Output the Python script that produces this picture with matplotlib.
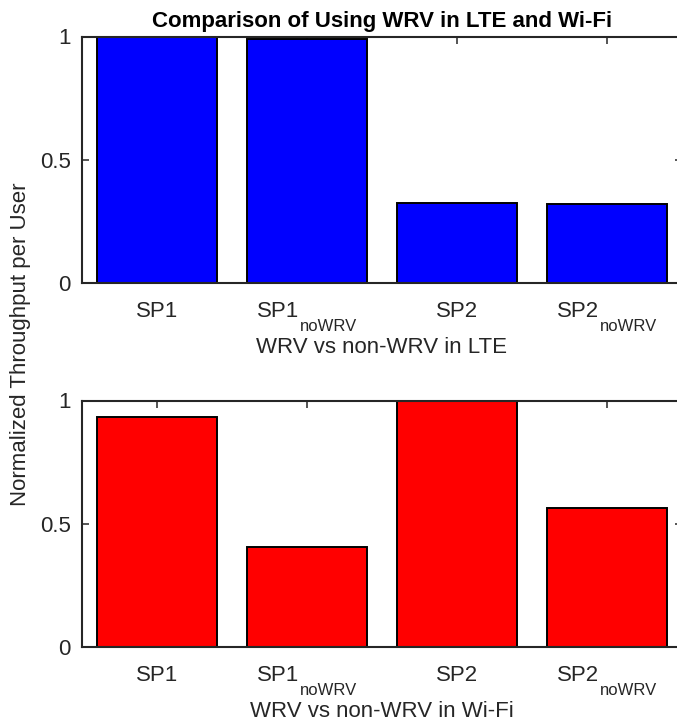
import matplotlib
matplotlib.use("Agg")
import matplotlib.pyplot as plt

plt.rcParams['font.family'] = ['Liberation Sans', 'DejaVu Sans']

categories = ["SP1", "SP1_noWRV", "SP2", "SP2_noWRV"]
lte_values = [1.0, 0.99, 0.325, 0.32]
wifi_values = [0.935, 0.405, 1.0, 0.562]
yticks = [0, 0.5, 1]
ytick_labels = ["0", "0.5", "1"]

title = "Comparison of Using WRV in LTE and Wi-Fi"
ylabel = "Normalized Throughput per User"
xlabels = ["WRV vs non-WRV in LTE", "WRV vs non-WRV in Wi-Fi"]

W, H = 677, 723
fig = plt.figure(figsize=(W / 100, H / 100), dpi=100)
txt = "#262626"
FS = 16
SUB_FS = 12


def make_axes(top, bottom, values, color, xlabel):
    ax = fig.add_axes([82 / W, 1 - bottom / H, 600 / W, (bottom - top) / H])
    x = list(range(1, len(values) + 1))
    ax.bar(x, values, width=0.8, color=color, edgecolor="black", linewidth=1.4, zorder=2)
    ax.set_xlim(0.5, 4.5)
    ax.set_ylim(0, 1)
    ax.set_xticks(x)
    ax.set_xticklabels([])
    ax.set_yticks(yticks)
    ax.set_yticklabels(ytick_labels, fontsize=FS, color=txt)
    ax.tick_params(direction="in", top=True, right=True, length=5, width=1.1,
                   color=txt, pad=8)
    for s in ax.spines.values():
        s.set_color(txt)
        s.set_linewidth(1.5)
        s.set_zorder(3)

    # category labels with a dropped subscript part, centred on each tick
    trans = ax.get_xaxis_transform()
    renderer = fig.canvas.get_renderer()
    for xi, cat in zip(x, categories):
        main, _, sub = cat.partition("_")
        t1 = ax.annotate(main, xy=(xi, 0), xycoords=trans, xytext=(0, -34),
                         textcoords="offset pixels", ha="left", va="baseline",
                         fontsize=FS, color=txt, annotation_clip=False)
        w1 = t1.get_window_extent(renderer).width
        w2 = 0
        t2 = None
        if sub:
            t2 = ax.annotate(sub, xy=(xi, 0), xycoords=trans, xytext=(0, -48),
                             textcoords="offset pixels", ha="left", va="baseline",
                             fontsize=SUB_FS, color=txt, annotation_clip=False)
            w2 = t2.get_window_extent(renderer).width
        x0 = -(w1 + w2) / 2
        t1.set_position((x0, -34))
        if t2 is not None:
            t2.set_position((x0 + w1, -48))

    ax.set_xlabel(xlabel, fontsize=FS, color=txt)
    ax.xaxis.set_label_coords(0.5, -70 / (bottom - top))
    ax.xaxis.label.set_va("baseline")
    return ax


ax1 = make_axes(36.5, 283, lte_values, "#0000ff", xlabels[0])
ax2 = make_axes(400.5, 647, wifi_values, "#ff0000", xlabels[1])

ax1.set_title(title, fontsize=FS, fontweight="bold", color="black", pad=6.5)
fig.text(21 / W, 1 - 344 / H, ylabel, rotation=90, ha="center", va="center",
         fontsize=FS, color=txt)

fig.savefig("out.png", dpi=100)
